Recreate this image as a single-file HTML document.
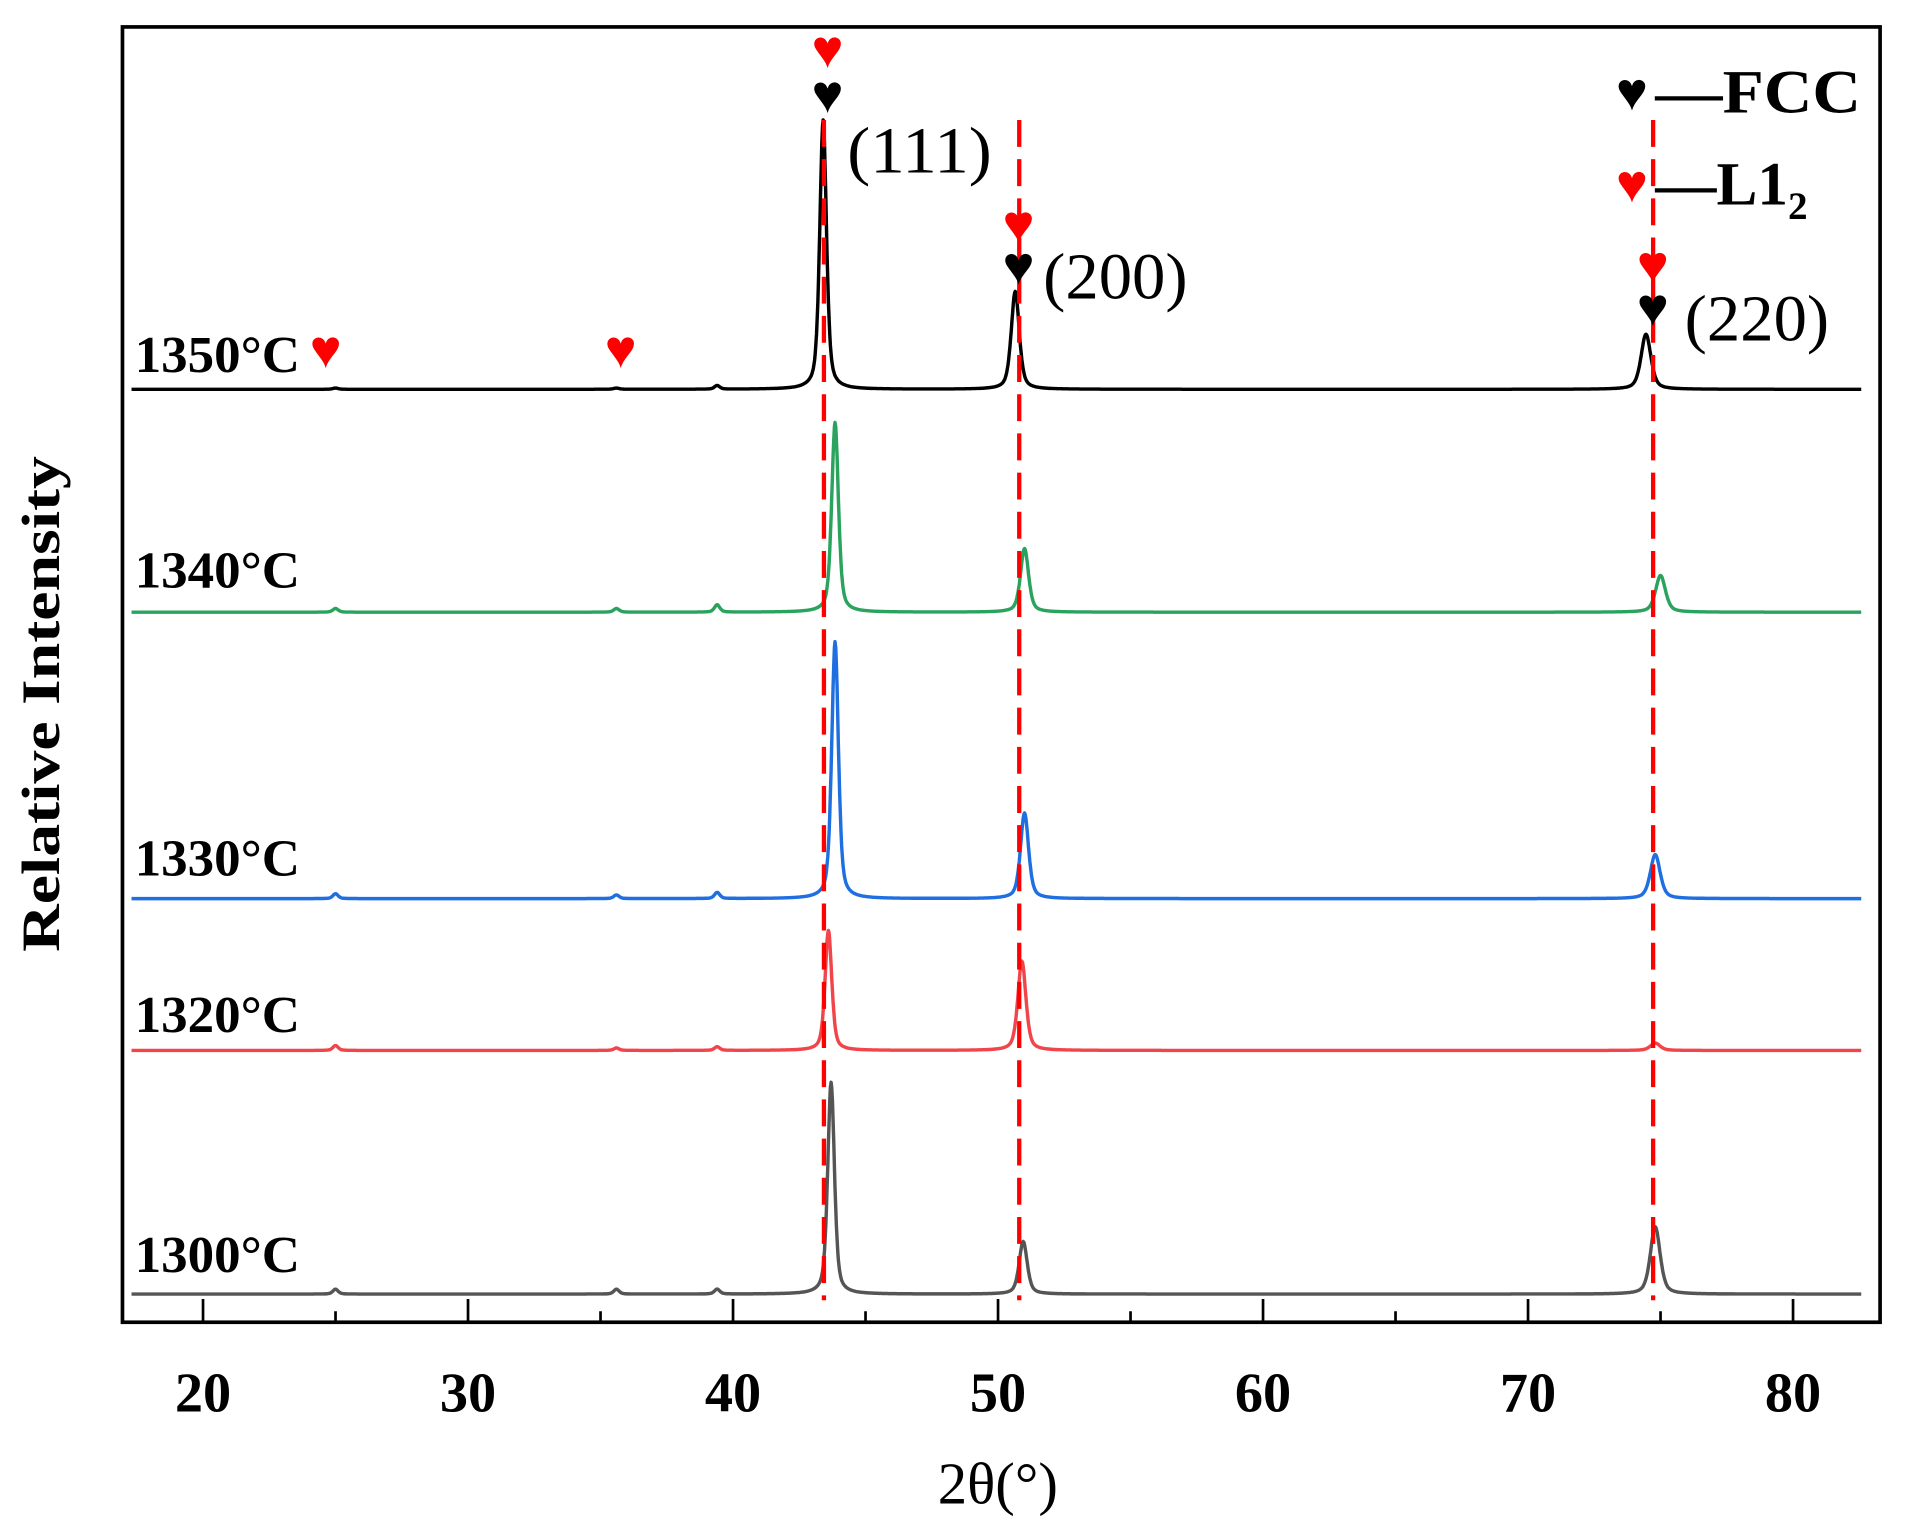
<!DOCTYPE html>
<html><head><meta charset="utf-8"><style>
html,body{margin:0;padding:0;background:#fff;}
svg{display:block;}
text{font-family:"Liberation Serif",serif;}
</style></head><body>
<svg id="chart" width="1910" height="1525" viewBox="0 0 1560 1245.6" xmlns="http://www.w3.org/2000/svg">
<rect x="100" y="22" width="1435.6" height="1058" fill="#fff" stroke="#000" stroke-width="3"/>
<g id="ticks"></g>
<g id="series"></g>
<g id="dashes"></g>
<g id="annot"></g>
<text x="48" y="575" transform="rotate(-90 48 575)" font-size="44" font-weight="bold" text-anchor="middle" textLength="405" lengthAdjust="spacingAndGlyphs">Relative Intensity</text>
<text x="815" y="1228" font-size="48" text-anchor="middle">2θ(°)</text>
<g>
<text x="1333" y="90" font-size="44" text-anchor="middle" fill="#000">♥</text>
<text x="1352" y="92" font-size="50" font-weight="bold" textLength="168" lengthAdjust="spacingAndGlyphs">—FCC</text>
<text x="1333" y="165" font-size="44" text-anchor="middle" fill="#f00">♥</text>
<text x="1352" y="167" font-size="50" font-weight="bold">—L1<tspan font-size="32" dy="12">2</tspan></text>
</g>
</svg>
<script>
const NS="http://www.w3.org/2000/svg";
const xTicks=[20,30,40,50,60,70,80];
const xMinor=[25,35,45,55,65,75];
const seriesNames=["1350°C","1340°C","1330°C","1320°C","1300°C"];
const seriesColors=["#000000","#2aa35e","#1f6fe0","#f0454a","#555555"];
const baselines=[318,500,734,858,1057];
const centers111=[43.4,43.85,43.85,43.6,43.7];
const heights111=[220,155,210,98,173];
const centers200=[50.65,51.0,51.0,50.9,50.95];
const heights200=[80,52,70,73,43];
const centers220=[74.45,75.0,74.8,74.8,74.8];
const heights220=[45,30,36,6,55];
const minorPeaks=[25.0,35.6,39.4];
const minorHeights=[[1,1,3],[3,3,6],[4,3,5],[4,2,3],[4,4,4]];
const dashPositions=[43.43,50.8,74.72];
const labelOffsets=[14,20,19,15,18];
function X(v){return 165.8+(v-20)*21.645;}
function Y(base,i){return base-i;}
function el(tag,attrs,parent){const e=document.createElementNS(NS,tag);for(const k in attrs)e.setAttribute(k,attrs[k]);parent.appendChild(e);return e;}
const tg=document.getElementById('ticks');
xTicks.forEach(t=>{
 const l=el('line',{x1:X(t),x2:X(t),y1:1080,y2:1061,stroke:'#000','stroke-width':2.2},tg);
 
 
 const tx=el('text',{x:X(t),y:1153,'font-size':46,'font-weight':'bold','text-anchor':'middle'},tg);
 tx.textContent=t;
 
 
});
xMinor.forEach(t=>{
 const l=el('line',{x1:X(t),x2:X(t),y1:1080,y2:1071,stroke:'#000','stroke-width':2.2},tg);
 
 
});
function prof(x,c,h,w){const t=(x-c)/w;return h*(0.5/(1+t*t)+0.5*Math.exp(-0.693*t*t));}
const sg=document.getElementById('series');
seriesNames.forEach((n,s)=>{
 const peaks=[[centers111[s],heights111[s],0.15],[centers200[s],heights200[s],0.18],[centers220[s],heights220[s],0.22]];
 minorPeaks.forEach((c,k)=>peaks.push([c,minorHeights[s][k],0.12]));
 let d='';
 for(let x=17.3;x<=82.6;x+=0.025){
  let v=0;peaks.forEach(p=>{v+=prof(x,p[0],p[1],p[2]);});
  d+=(d?'L':'M')+X(x).toFixed(1)+' '+Y(baselines[s],v).toFixed(1);
 }
 const p=el('path',{d:d,fill:'none',stroke:seriesColors[s],'stroke-width':2.8,'stroke-linejoin':'round'},sg);
 
 
 const lab=el('text',{x:110,y:baselines[s]-labelOffsets[s],'font-size':42,'font-weight':'bold',textLength:135,lengthAdjust:'spacingAndGlyphs'},sg);
 lab.textContent=n;
 
 
});
const dg=document.getElementById('dashes');
dashPositions.forEach(v=>{
 const l=el('line',{x1:X(v),x2:X(v),y1:98,y2:1062,stroke:'#f00','stroke-width':3.5,'stroke-dasharray':'22 10'},dg);
 
 
});
const ag=document.getElementById('annot');
const hearts=[[676,55,'#f00'],[676,92,'#000'],[832,198,'#f00'],[832,232,'#000'],[1350,231,'#f00'],[1350,266,'#000'],[266,300,'#f00'],[507,300,'#f00']];
hearts.forEach(h=>{
 const t=el('text',{x:h[0],y:h[1],'font-size':44,'text-anchor':'middle',fill:h[2]},ag);
 t.textContent='♥';
 
 
});
const planes=[[692,141,'(111)'],[852,244,'(200)'],[1376,278,'(220)']];
planes.forEach(p=>{
 const t=el('text',{x:p[0],y:p[1],'font-size':54,textLength:118,lengthAdjust:'spacingAndGlyphs'},ag);
 t.textContent=p[2];
 
 
});
</script>
</body></html>
